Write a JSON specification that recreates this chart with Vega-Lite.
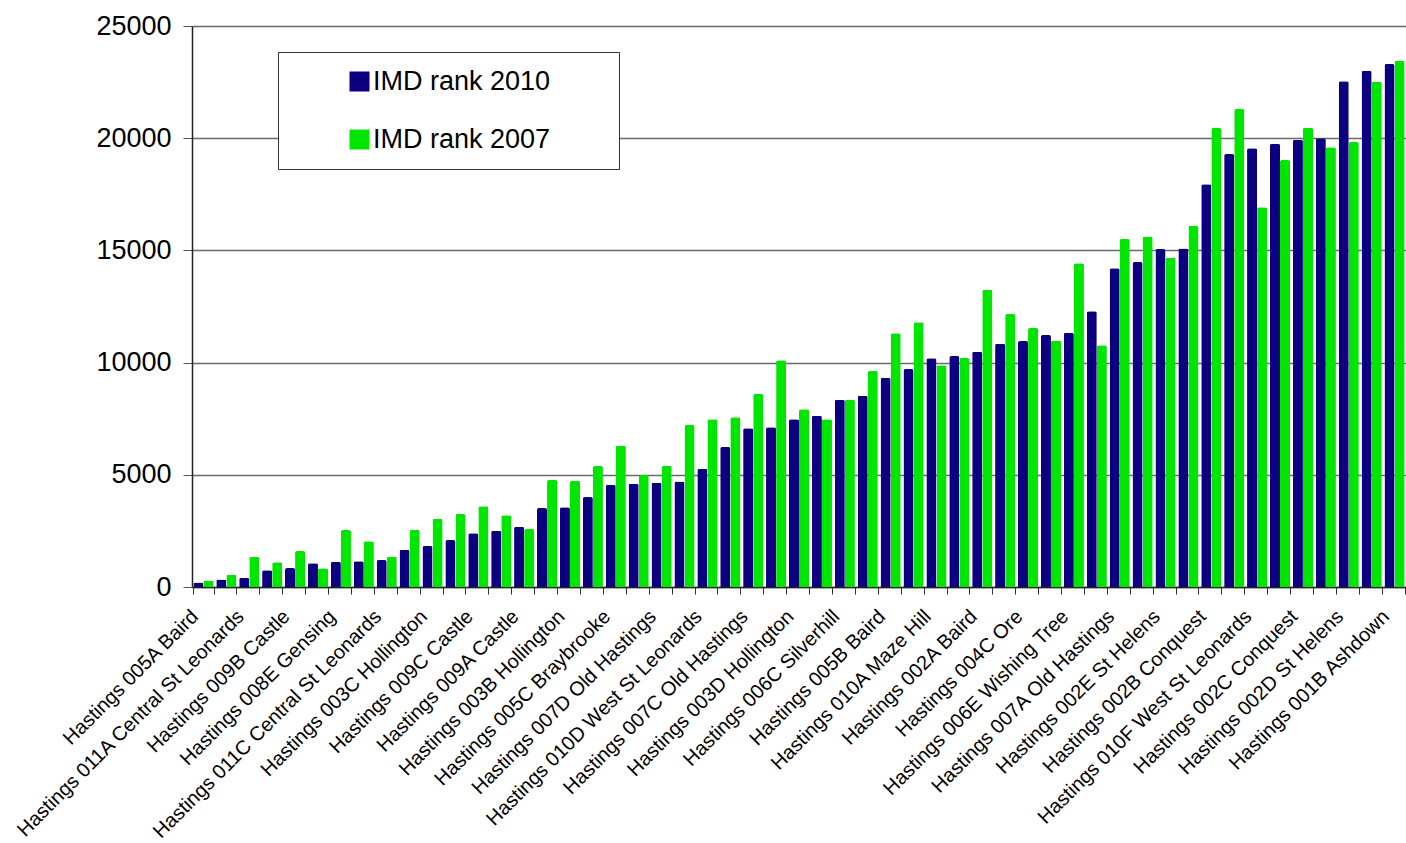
{
  "$schema": "https://vega.github.io/schema/vega-lite/v6.json",
  "width": 1214,
  "height": 561,
  "autosize": {"type": "none"},
  "padding": {"left": 192, "top": 26, "right": 0, "bottom": 256},
  "background": "white",
  "config": {
    "font": "Liberation Sans",
    "view": {"stroke": null},
    "axis": {"labelColor": "black", "titleColor": "black"}
  },
  "data": {
    "values": [
      {"area": "Hastings 005A Baird", "series": "IMD rank 2010", "rank": 200},
      {"area": "Hastings 005A Baird", "series": "IMD rank 2007", "rank": 280},
      {"area": "unlabelled 02", "series": "IMD rank 2010", "rank": 330},
      {"area": "unlabelled 02", "series": "IMD rank 2007", "rank": 550},
      {"area": "Hastings 011A Central St Leonards", "series": "IMD rank 2010", "rank": 415},
      {"area": "Hastings 011A Central St Leonards", "series": "IMD rank 2007", "rank": 1340},
      {"area": "unlabelled 04", "series": "IMD rank 2010", "rank": 745},
      {"area": "unlabelled 04", "series": "IMD rank 2007", "rank": 1100},
      {"area": "Hastings 009B Castle", "series": "IMD rank 2010", "rank": 845},
      {"area": "Hastings 009B Castle", "series": "IMD rank 2007", "rank": 1600},
      {"area": "unlabelled 06", "series": "IMD rank 2010", "rank": 1055},
      {"area": "unlabelled 06", "series": "IMD rank 2007", "rank": 830},
      {"area": "Hastings 008E Gensing", "series": "IMD rank 2010", "rank": 1130},
      {"area": "Hastings 008E Gensing", "series": "IMD rank 2007", "rank": 2540},
      {"area": "unlabelled 08", "series": "IMD rank 2010", "rank": 1145},
      {"area": "unlabelled 08", "series": "IMD rank 2007", "rank": 2035},
      {"area": "Hastings 011C Central St Leonards", "series": "IMD rank 2010", "rank": 1200},
      {"area": "Hastings 011C Central St Leonards", "series": "IMD rank 2007", "rank": 1350},
      {"area": "unlabelled 10", "series": "IMD rank 2010", "rank": 1660},
      {"area": "unlabelled 10", "series": "IMD rank 2007", "rank": 2555},
      {"area": "Hastings 003C Hollington", "series": "IMD rank 2010", "rank": 1830},
      {"area": "Hastings 003C Hollington", "series": "IMD rank 2007", "rank": 3045},
      {"area": "unlabelled 12", "series": "IMD rank 2010", "rank": 2095},
      {"area": "unlabelled 12", "series": "IMD rank 2007", "rank": 3250},
      {"area": "Hastings 009C Castle", "series": "IMD rank 2010", "rank": 2390},
      {"area": "Hastings 009C Castle", "series": "IMD rank 2007", "rank": 3595},
      {"area": "unlabelled 14", "series": "IMD rank 2010", "rank": 2510},
      {"area": "unlabelled 14", "series": "IMD rank 2007", "rank": 3195},
      {"area": "Hastings 009A Castle", "series": "IMD rank 2010", "rank": 2690},
      {"area": "Hastings 009A Castle", "series": "IMD rank 2007", "rank": 2585},
      {"area": "unlabelled 16", "series": "IMD rank 2010", "rank": 3520},
      {"area": "unlabelled 16", "series": "IMD rank 2007", "rank": 4770},
      {"area": "Hastings 003B Hollington", "series": "IMD rank 2010", "rank": 3550},
      {"area": "Hastings 003B Hollington", "series": "IMD rank 2007", "rank": 4725},
      {"area": "unlabelled 18", "series": "IMD rank 2010", "rank": 4010},
      {"area": "unlabelled 18", "series": "IMD rank 2007", "rank": 5390},
      {"area": "Hastings 005C Braybrooke", "series": "IMD rank 2010", "rank": 4560},
      {"area": "Hastings 005C Braybrooke", "series": "IMD rank 2007", "rank": 6300},
      {"area": "unlabelled 20", "series": "IMD rank 2010", "rank": 4600},
      {"area": "unlabelled 20", "series": "IMD rank 2007", "rank": 4990},
      {"area": "Hastings 007D Old Hastings", "series": "IMD rank 2010", "rank": 4650},
      {"area": "Hastings 007D Old Hastings", "series": "IMD rank 2007", "rank": 5390},
      {"area": "unlabelled 22", "series": "IMD rank 2010", "rank": 4700},
      {"area": "unlabelled 22", "series": "IMD rank 2007", "rank": 7220},
      {"area": "Hastings 010D West St Leonards", "series": "IMD rank 2010", "rank": 5270},
      {"area": "Hastings 010D West St Leonards", "series": "IMD rank 2007", "rank": 7470},
      {"area": "unlabelled 24", "series": "IMD rank 2010", "rank": 6240},
      {"area": "unlabelled 24", "series": "IMD rank 2007", "rank": 7560},
      {"area": "Hastings 007C Old Hastings", "series": "IMD rank 2010", "rank": 7070},
      {"area": "Hastings 007C Old Hastings", "series": "IMD rank 2007", "rank": 8600},
      {"area": "unlabelled 26", "series": "IMD rank 2010", "rank": 7115},
      {"area": "unlabelled 26", "series": "IMD rank 2007", "rank": 10100},
      {"area": "Hastings 003D Hollington", "series": "IMD rank 2010", "rank": 7470},
      {"area": "Hastings 003D Hollington", "series": "IMD rank 2007", "rank": 7920},
      {"area": "unlabelled 28", "series": "IMD rank 2010", "rank": 7635},
      {"area": "unlabelled 28", "series": "IMD rank 2007", "rank": 7470},
      {"area": "Hastings 006C Silverhill", "series": "IMD rank 2010", "rank": 8345},
      {"area": "Hastings 006C Silverhill", "series": "IMD rank 2007", "rank": 8345},
      {"area": "unlabelled 30", "series": "IMD rank 2010", "rank": 8525},
      {"area": "unlabelled 30", "series": "IMD rank 2007", "rank": 9625},
      {"area": "Hastings 005B Baird", "series": "IMD rank 2010", "rank": 9325},
      {"area": "Hastings 005B Baird", "series": "IMD rank 2007", "rank": 11305},
      {"area": "unlabelled 32", "series": "IMD rank 2010", "rank": 9715},
      {"area": "unlabelled 32", "series": "IMD rank 2007", "rank": 11795},
      {"area": "Hastings 010A Maze Hill", "series": "IMD rank 2010", "rank": 10190},
      {"area": "Hastings 010A Maze Hill", "series": "IMD rank 2007", "rank": 9880},
      {"area": "unlabelled 34", "series": "IMD rank 2010", "rank": 10295},
      {"area": "unlabelled 34", "series": "IMD rank 2007", "rank": 10205},
      {"area": "Hastings 002A Baird", "series": "IMD rank 2010", "rank": 10485},
      {"area": "Hastings 002A Baird", "series": "IMD rank 2007", "rank": 13250},
      {"area": "unlabelled 36", "series": "IMD rank 2010", "rank": 10840},
      {"area": "unlabelled 36", "series": "IMD rank 2007", "rank": 12165},
      {"area": "Hastings 004C Ore", "series": "IMD rank 2010", "rank": 10960},
      {"area": "Hastings 004C Ore", "series": "IMD rank 2007", "rank": 11540},
      {"area": "unlabelled 38", "series": "IMD rank 2010", "rank": 11230},
      {"area": "unlabelled 38", "series": "IMD rank 2007", "rank": 10985},
      {"area": "Hastings 006E Wishing Tree", "series": "IMD rank 2010", "rank": 11330},
      {"area": "Hastings 006E Wishing Tree", "series": "IMD rank 2007", "rank": 14425},
      {"area": "unlabelled 40", "series": "IMD rank 2010", "rank": 12285},
      {"area": "unlabelled 40", "series": "IMD rank 2007", "rank": 10770},
      {"area": "Hastings 007A Old Hastings", "series": "IMD rank 2010", "rank": 14200},
      {"area": "Hastings 007A Old Hastings", "series": "IMD rank 2007", "rank": 15505},
      {"area": "unlabelled 42", "series": "IMD rank 2010", "rank": 14480},
      {"area": "unlabelled 42", "series": "IMD rank 2007", "rank": 15625},
      {"area": "Hastings 002E St Helens", "series": "IMD rank 2010", "rank": 15060},
      {"area": "Hastings 002E St Helens", "series": "IMD rank 2007", "rank": 14675},
      {"area": "unlabelled 44", "series": "IMD rank 2010", "rank": 15090},
      {"area": "unlabelled 44", "series": "IMD rank 2007", "rank": 16100},
      {"area": "Hastings 002B Conquest", "series": "IMD rank 2010", "rank": 17945},
      {"area": "Hastings 002B Conquest", "series": "IMD rank 2007", "rank": 20455},
      {"area": "unlabelled 46", "series": "IMD rank 2010", "rank": 19295},
      {"area": "unlabelled 46", "series": "IMD rank 2007", "rank": 21300},
      {"area": "Hastings 010F West St Leonards", "series": "IMD rank 2010", "rank": 19550},
      {"area": "Hastings 010F West St Leonards", "series": "IMD rank 2007", "rank": 16920},
      {"area": "unlabelled 48", "series": "IMD rank 2010", "rank": 19755},
      {"area": "unlabelled 48", "series": "IMD rank 2007", "rank": 19025},
      {"area": "Hastings 002C Conquest", "series": "IMD rank 2010", "rank": 19930},
      {"area": "Hastings 002C Conquest", "series": "IMD rank 2007", "rank": 20465},
      {"area": "unlabelled 50", "series": "IMD rank 2010", "rank": 19995},
      {"area": "unlabelled 50", "series": "IMD rank 2007", "rank": 19595},
      {"area": "Hastings 002D St Helens", "series": "IMD rank 2010", "rank": 22535},
      {"area": "Hastings 002D St Helens", "series": "IMD rank 2007", "rank": 19830},
      {"area": "unlabelled 52", "series": "IMD rank 2010", "rank": 23010},
      {"area": "unlabelled 52", "series": "IMD rank 2007", "rank": 22515},
      {"area": "Hastings 001B Ashdown", "series": "IMD rank 2010", "rank": 23305},
      {"area": "Hastings 001B Ashdown", "series": "IMD rank 2007", "rank": 23450}
    ]
  },
  "mark": {"type": "bar", "cornerRadiusTopLeft": 2, "cornerRadiusTopRight": 2},
  "encoding": {
    "x": {
      "field": "area",
      "type": "nominal",
      "sort": null,
      "scale": {"paddingInner": 0.12, "paddingOuter": 0.06},
      "axis": {
        "title": null,
        "labelAngle": -45,
        "labelFontSize": 20,
        "labelLimit": 500,
        "labelOverlap": false,
        "labelPadding": 12,
        "labelOffset": -16,
        "labelExpr": "indexof(datum.label, 'Hastings') == 0 ? datum.label : ''",
        "tickBand": "extent",
        "tickSize": 7,
        "tickColor": "#333333",
        "domainColor": "#222222",
        "domainWidth": 1.5,
        "grid": false
      }
    },
    "xOffset": {
      "field": "series",
      "type": "nominal",
      "sort": ["IMD rank 2010", "IMD rank 2007"]
    },
    "y": {
      "field": "rank",
      "type": "quantitative",
      "scale": {"domain": [0, 25000], "nice": false},
      "axis": {
        "title": null,
        "values": [0, 5000, 10000, 15000, 20000, 25000],
        "format": "d",
        "labelFontSize": 27,
        "labelPadding": 12,
        "tickSize": 9,
        "tickColor": "#555555",
        "domainColor": "#222222",
        "domainWidth": 1.5,
        "gridColor": "#6a6a6a",
        "gridWidth": 1.5
      }
    },
    "color": {
      "field": "series",
      "type": "nominal",
      "scale": {"domain": ["IMD rank 2010", "IMD rank 2007"], "range": ["#0c0080", "#00e600"]},
      "legend": {
        "orient": "none",
        "legendX": 86,
        "legendY": 26,
        "title": null,
        "fillColor": "white",
        "strokeColor": "#333333",
        "padding": 16,
        "symbolType": "square",
        "symbolSize": 400,
        "symbolStrokeWidth": 0,
        "symbolOffset": 52,
        "labelFontSize": 27,
        "labelColor": "black",
        "labelOffset": 0,
        "labelLimit": 500,
        "rowPadding": 30,
        "labelExpr": "datum.label + '\u00a0\u00a0\u00a0\u00a0\u00a0\u00a0\u00a0\u200b'"
      }
    }
  }
}
